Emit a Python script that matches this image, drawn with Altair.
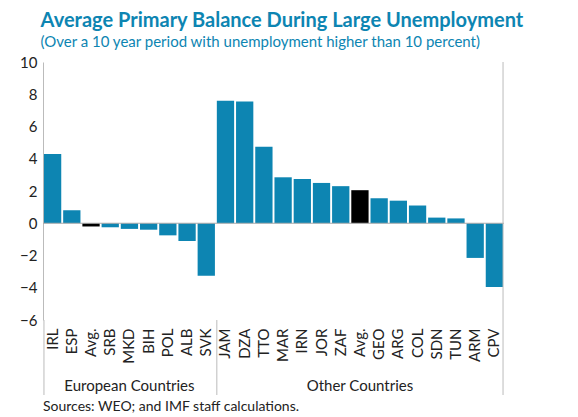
import altair as alt
import pandas as pd

countries = ["IRL", "ESP", "Avg.", "SRB", "MKD", "BIH", "POL", "ALB", "SVK",
             "JAM", "DZA", "TTO", "MAR", "IRN", "JOR", "ZAF", "Avg. ", "GEO",
             "ARG", "COL", "SDN", "TUN", "ARM", "CPV"]
balance = [4.3, 0.8, -0.2, -0.25, -0.35, -0.4, -0.75, -1.1, -3.25,
           7.6, 7.55, 4.75, 2.85, 2.75, 2.5, 2.3, 2.05, 1.55,
           1.4, 1.1, 0.35, 0.3, -2.15, -3.95]
is_avg = [c.strip() == "Avg." for c in countries]

groups = ["European Countries", "Other Countries"]
group_centers = ["MKD", "Avg. "]
separators = ["IRL", "JAM"]

font = "Lato"
blue = "#0d85b2"

df = pd.DataFrame({"country": countries, "balance": balance, "avg": is_avg})

x_axis = alt.Axis(title=None, labelAngle=-90, labelFontSize=15, labelPadding=8,
                  ticks=False, domain=False, labelColor="#222", labelFont=font,
                  labelBaseline="middle", labelAlign="right", labelOverlap=False)
x_scale = alt.Scale(paddingInner=0.1, paddingOuter=0.05)
y_axis = alt.Axis(title=None, values=list(range(-6, 11, 2)), grid=False, ticks=False,
                  domainColor="#bbb", labelFontSize=15, labelColor="#222",
                  labelFont=font, labelPadding=6, labelOverlap=False)
y_scale = alt.Scale(domain=[-6, 10], nice=False)


def xc(**kw):
    return alt.X("country:N", sort=countries, scale=x_scale, axis=x_axis, **kw)


bars = alt.Chart(df).mark_bar().encode(
    x=xc(),
    y=alt.Y("balance:Q", scale=y_scale, axis=y_axis),
    color=alt.condition("datum.avg", alt.value("black"), alt.value(blue)),
)

zero = alt.Chart(pd.DataFrame({"balance": [0]})).mark_rule(color="#aaa").encode(
    y=alt.Y("balance:Q", scale=y_scale, axis=y_axis))

seps = alt.Chart(pd.DataFrame({"country": separators})).mark_rule(color="#bbb").encode(
    x=xc(bandPosition=0), y=alt.value(258), y2=alt.value(333))
right = alt.Chart(pd.DataFrame({"country": ["CPV"]})).mark_rule(color="#bbb").encode(
    x=xc(bandPosition=1), y=alt.value(0), y2=alt.value(333))

grp = alt.Chart(pd.DataFrame({"country": group_centers, "label": groups})).mark_text(
    fontSize=15, font=font, color="#222", baseline="middle").encode(
    x=xc(), y=alt.value(324), text="label:N")

src = alt.Chart(pd.DataFrame({"t": ["Sources: WEO; and IMF staff calculations."]})).mark_text(
    fontSize=14, font=font, color="#222", align="left", baseline="middle").encode(
    x=alt.value(0), y=alt.value(345), text="t:N")

chart = (
    alt.layer(bars, zero, seps, right, grp, src)
    .properties(
        width=461, height=258,
        autosize=alt.AutoSizeParams(type="none"),
        padding={"left": 35, "top": 54, "right": 66, "bottom": 96},
        title=alt.TitleParams(
            text="Average Primary Balance During Large Unemployment",
            subtitle="(Over a 10 year period with unemployment higher than 10 percent)",
            anchor="start", dx=21, offset=5, font=font, fontSize=20, fontWeight="bold",
            color=blue, subtitleFont=font, subtitleFontSize=15, subtitleColor=blue,
            subtitlePadding=4),
    )
    .configure_view(strokeWidth=0)
)

chart.save("out.html", embed_options={"renderer": "svg", "actions": False})
